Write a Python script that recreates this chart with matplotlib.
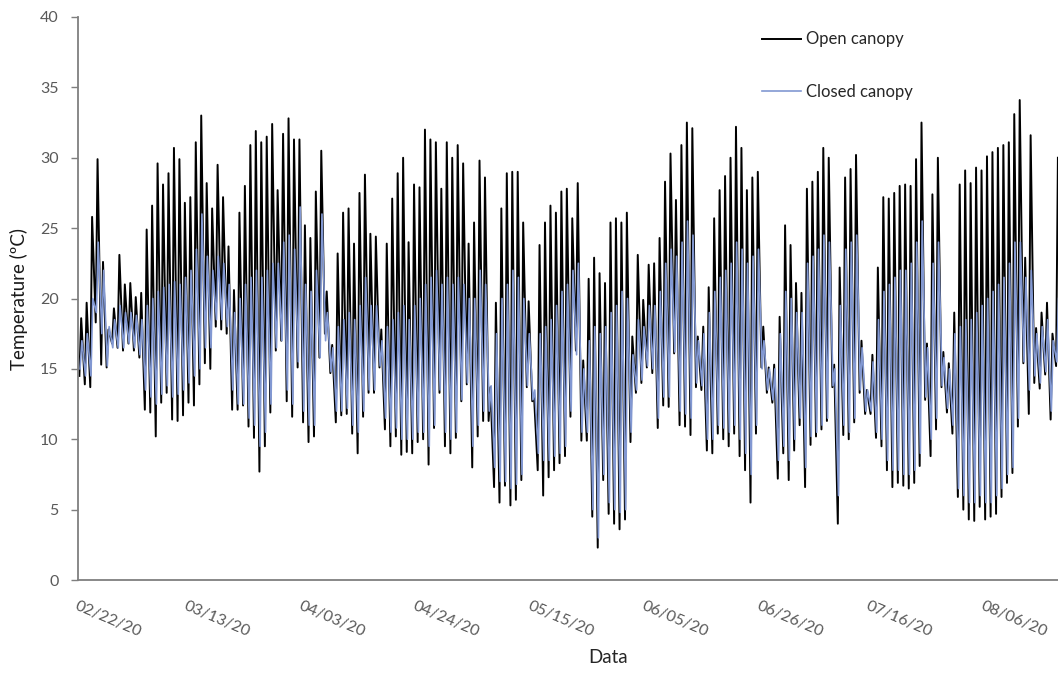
import numpy as np
import pandas as pd
import matplotlib
matplotlib.use('Agg')
import matplotlib.pyplot as plt
import matplotlib.dates as mdates

plt.rcParams['font.family'] = ['Lato', 'DejaVu Sans']

start_date = '2020-02-22'

# daily extremes, one value per day from 02/22/20
open_max = [18.6, 19.7, 25.8, 29.9, 22.6, 17.8, 19.3, 23.1, 21.0, 21.1,
            20.1, 20.4, 24.9, 26.6, 29.6, 28.1, 28.9, 30.7, 29.9, 26.8,
            27.2, 31.1, 33.0, 28.2, 26.4, 29.5, 27.2, 23.7, 20.6, 26.1,
            28.0, 30.9, 31.9, 31.1, 31.5, 32.4, 27.7, 31.7, 32.8, 31.3,
            31.3, 25.2, 24.3, 27.6, 30.5, 20.5, 16.7, 23.2, 26.1, 26.4,
            23.9, 27.5, 28.8, 24.6, 24.4, 17.8, 23.9, 27.1, 28.9, 30.0,
            24.0, 28.1, 27.9, 32.0, 31.3, 31.1, 27.8, 31.1, 30.0, 30.9,
            29.6, 23.9, 25.4, 29.8, 28.6, 13.7, 19.7, 26.4, 28.9, 29.0,
            29.0, 25.4, 19.8, 13.0, 23.8, 25.4, 26.6, 26.1, 27.6, 27.8,
            25.7, 28.2, 15.6, 21.4, 22.9, 21.8, 21.1, 25.4, 25.7, 25.4,
            26.1, 17.3, 23.1, 19.9, 22.4, 22.5, 24.3, 28.3, 30.3, 27.0,
            30.9, 32.5, 32.1, 17.3, 18.0, 20.8, 25.7, 27.7, 28.7, 30.0,
            32.2, 30.7, 27.7, 28.6, 29.0, 18.0, 15.1, 15.3, 18.7, 25.2,
            23.8, 21.1, 20.4, 27.8, 28.3, 29.0, 30.7, 30.0, 15.3, 22.2,
            28.6, 29.2, 30.2, 17.0, 13.5, 16.0, 22.2, 27.2, 27.1, 27.5,
            28.0, 28.1, 28.0, 29.9, 32.5, 16.8, 27.4, 30.0, 16.2, 15.4,
            19.0, 28.1, 29.1, 28.2, 29.3, 29.1, 30.1, 30.4, 30.7, 30.9,
            31.1, 33.1, 34.1, 22.9, 31.6, 17.9, 19.0, 19.7, 17.5, 30.0]
open_min = [14.5, 13.9, 13.7, 18.3, 15.3, 15.1, 16.8, 16.5, 16.3, 16.8,
            16.3, 15.8, 12.1, 11.9, 10.2, 12.6, 13.3, 11.4, 11.3, 11.7,
            12.6, 12.4, 13.9, 15.4, 15.0, 18.0, 17.8, 17.5, 12.1, 12.1,
            12.4, 10.9, 10.1, 7.7, 9.5, 11.9, 16.3, 17.0, 12.7, 11.6,
            15.1, 11.2, 9.8, 10.2, 15.8, 17.5, 14.7, 11.2, 11.7, 11.8,
            10.4, 9.0, 11.6, 13.3, 13.3, 15.1, 10.7, 9.5, 10.2, 8.9,
            9.1, 9.0, 9.8, 10.0, 8.2, 10.8, 13.3, 9.5, 9.0, 10.1,
            12.7, 13.9, 8.0, 10.2, 11.3, 11.3, 6.6, 5.5, 6.7, 5.3,
            5.7, 7.1, 13.7, 12.7, 7.8, 6.0, 7.3, 7.8, 8.3, 8.8,
            11.6, 16.3, 9.9, 9.9, 4.5, 2.3, 7.1, 4.7, 4.0, 3.6,
            4.3, 9.8, 13.3, 14.0, 15.1, 14.7, 10.8, 12.4, 12.3, 16.1,
            11.0, 10.9, 10.3, 13.7, 13.5, 9.2, 9.0, 10.4, 10.0, 9.5,
            10.4, 8.8, 7.8, 5.5, 10.4, 15.1, 13.3, 12.6, 7.2, 9.0,
            7.1, 9.2, 11.0, 6.6, 9.6, 10.2, 10.7, 11.3, 13.7, 4.0,
            10.3, 10.0, 11.2, 13.3, 11.8, 11.8, 10.1, 9.5, 7.8, 6.6,
            6.9, 6.7, 6.5, 6.9, 8.1, 12.8, 8.8, 10.7, 13.7, 11.9,
            10.4, 5.9, 5.0, 4.3, 4.2, 5.2, 4.3, 4.5, 4.7, 5.9,
            6.9, 7.6, 10.9, 15.4, 11.8, 14.0, 13.6, 14.6, 11.4, 15.2]
closed_max = [17.0, 17.5, 20.0, 24.0, 22.0, 18.0, 18.5, 19.5, 19.0, 19.0,
              18.8, 18.5, 19.5, 20.0, 20.5, 20.8, 21.0, 21.2, 21.0, 21.5,
              22.0, 23.5, 26.0, 23.0, 22.0, 23.0, 22.5, 21.0, 19.0, 20.0,
              21.0, 21.5, 22.0, 21.5, 22.0, 22.5, 22.5, 24.0, 24.5, 23.5,
              26.5, 21.0, 20.5, 22.0, 26.0, 19.0, 16.5, 18.0, 18.5, 19.0,
              18.5, 19.5, 21.5, 19.5, 19.5, 17.0, 18.0, 18.5, 19.0, 19.5,
              18.5, 19.5, 20.0, 21.0, 21.5, 22.0, 21.0, 21.5, 21.0, 21.5,
              21.0, 20.0, 20.0, 22.0, 21.0, 13.8, 17.5, 20.0, 21.0, 22.0,
              21.5, 20.0, 17.5, 13.5, 17.5, 18.0, 18.5, 19.5, 20.5, 21.0,
              22.0, 22.5, 15.0, 17.0, 18.0, 17.5, 18.0, 19.0, 19.5, 20.5,
              20.0, 16.0, 18.5, 18.0, 19.5, 19.5, 20.5, 22.5, 23.5, 23.0,
              24.0, 25.5, 24.5, 17.0, 17.5, 19.0, 20.5, 21.5, 22.0, 22.5,
              24.0, 23.5, 22.5, 23.0, 23.5, 17.0, 15.0, 15.0, 17.5, 20.5,
              20.0, 19.0, 19.0, 22.5, 23.0, 23.5, 24.5, 24.0, 15.0, 19.5,
              23.5, 24.0, 24.5, 16.5, 13.5, 15.5, 18.5, 20.5, 21.0, 21.5,
              22.0, 22.0, 22.5, 24.0, 25.5, 16.5, 22.5, 24.0, 15.8, 15.0,
              17.5, 18.0, 18.5, 18.5, 19.0, 19.5, 20.0, 20.5, 21.0, 21.5,
              22.5, 24.0, 24.0, 21.5, 22.0, 17.5, 18.0, 18.5, 17.0, 20.0]
closed_min = [15.0, 14.5, 14.5, 19.0, 17.5, 15.2, 16.5, 16.5, 16.5, 16.8,
              16.5, 16.0, 13.5, 13.0, 12.5, 13.2, 13.8, 13.0, 13.2, 13.5,
              14.0, 14.5, 15.0, 16.5, 16.5, 18.5, 18.5, 18.0, 13.5, 12.5,
              12.5, 11.5, 11.0, 9.5, 10.5, 12.5, 16.5, 17.0, 13.5, 12.5,
              15.5, 12.0, 11.0, 11.0, 15.8, 17.0, 14.8, 12.0, 12.0, 12.2,
              11.0, 10.5, 12.0, 13.5, 13.5, 15.2, 11.5, 10.5, 10.8, 10.0,
              10.0, 10.0, 10.5, 10.5, 9.5, 11.0, 13.5, 10.5, 10.0, 10.5,
              12.8, 14.0, 9.5, 11.0, 12.0, 12.0, 8.0, 7.0, 7.0, 6.5,
              6.8, 7.5, 13.8, 12.8, 9.0, 8.5, 8.5, 8.8, 9.0, 9.5,
              12.0, 16.0, 10.5, 10.5, 5.0, 3.0, 7.5, 5.5, 5.0, 4.8,
              5.0, 10.5, 13.5, 14.2, 15.2, 15.0, 11.5, 13.0, 13.0, 16.2,
              12.0, 11.8, 11.5, 14.0, 13.8, 10.0, 10.0, 11.0, 10.8, 10.5,
              11.0, 10.0, 9.0, 7.5, 11.0, 15.0, 13.5, 12.8, 8.5, 9.5,
              8.5, 10.0, 11.5, 8.0, 10.2, 10.5, 11.0, 11.5, 13.8, 6.0,
              11.0, 10.5, 11.5, 13.5, 12.0, 12.0, 10.5, 10.0, 8.5, 7.8,
              7.8, 7.5, 7.5, 7.8, 9.0, 13.0, 10.0, 11.5, 13.8, 12.2,
              11.0, 6.5, 6.0, 5.5, 5.5, 6.0, 5.5, 5.5, 6.0, 6.5,
              7.5, 8.0, 11.5, 15.5, 13.5, 14.5, 14.0, 14.8, 12.0, 15.5]

tick_dates = ['2020-02-22', '2020-03-13', '2020-04-03', '2020-04-24', '2020-05-15',
              '2020-06-05', '2020-06-26', '2020-07-16', '2020-08-06']

days = pd.date_range(start_date, periods=len(open_max), freq='D')


def zigzag(lo, hi, h_lo, h_hi):
    # morning minimum then afternoon maximum for each day
    t = np.column_stack([(days + pd.Timedelta(hours=h_lo)).values,
                         (days + pd.Timedelta(hours=h_hi)).values]).ravel()
    return t, np.column_stack([lo, hi]).ravel()


t_open, open_series = zigzag(open_min, open_max, 6, 14)
t_closed, closed_series = zigzag(closed_min, closed_max, 9, 17)

fig = plt.figure(figsize=(10.58, 6.73), dpi=100)
ax = fig.add_axes([78/1058, 1 - 580/673, 1 - 78/1058, (580 - 17)/673])

ax.plot(t_open, open_series, color='black', lw=1.4, label='Open canopy', zorder=2)
ax.plot(t_closed, closed_series, color='#8298d2', lw=1.2, label='Closed canopy', zorder=3)

ax.set_ylim(0, 40)
ax.set_yticks(range(0, 41, 5))
ax.set_xlim(pd.Timestamp(start_date), pd.Timestamp(start_date) + pd.Timedelta(days=179.6))
ax.set_xticks(pd.to_datetime(tick_dates))
ax.xaxis.set_major_formatter(mdates.DateFormatter('%m/%d/%y'))

for s in ['top', 'right']:
    ax.spines[s].set_visible(False)
for s in ['left', 'bottom']:
    ax.spines[s].set_color('#7f7f7f')
    ax.spines[s].set_linewidth(1.3)

ax.tick_params(axis='y', length=5, width=1, color='#7f7f7f', labelsize=11.5,
               labelcolor='#595959', pad=9)
ax.tick_params(axis='x', length=0, labelsize=11.5, labelcolor='#595959', pad=14)
for lab in ax.get_xticklabels():
    lab.set_rotation(-23)
    lab.set_ha('left')
    lab.set_va('top')
    lab.set_rotation_mode('anchor')

ax.set_ylabel('Temperature (ºC)', fontsize=13.5, color='#1a1a1a')
ax.set_xlabel('Data', fontsize=13.5, color='#262626')
ax.xaxis.set_label_coords((608 - 78) / 980, -(649 - 580) / 563)
ax.yaxis.set_label_coords(-(78 - 28) / 980, 0.5)

ax.legend(loc='upper left', bbox_to_anchor=(754/1058, 1 - 23/673),
          bbox_transform=fig.transFigure, frameon=False, fontsize=12,
          handlelength=2.3, handletextpad=0.3, labelspacing=2.2, borderpad=0,
          labelcolor='#262626')

fig.savefig('out.png', dpi=100)
